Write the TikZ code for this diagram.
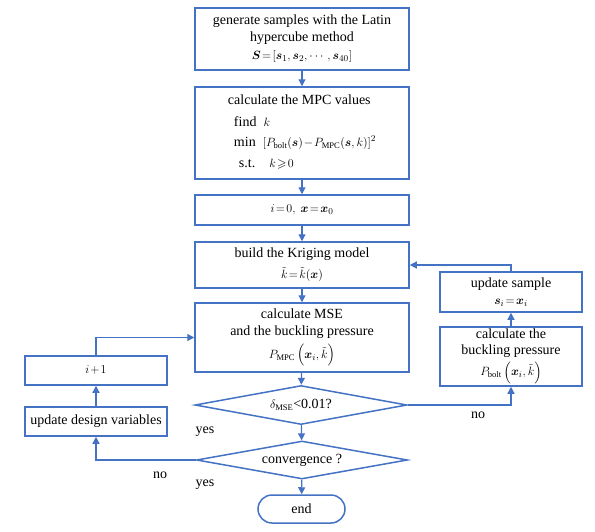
\documentclass[tikz,border=0pt]{standalone}
\usepackage{amsmath,amssymb,bm}
\usepackage{fontspec}
\setmainfont{Liberation Serif}
\usetikzlibrary{arrows.meta,shapes.geometric,shapes.misc}
\definecolor{fblue}{RGB}{68,114,196}
\newcommand{\smath}[1]{{\fontsize{12.2}{14}\selectfont\thickmuskip=2mu\medmuskip=1.5mu$#1$}}
\begin{document}
\begin{tikzpicture}[x=1pt,y=-1pt,
  font=\fontsize{14}{17}\selectfont,
  box/.style={draw=fblue,line width=1.5pt,inner sep=0pt,align=center,fill=white},
  dia/.style={draw=fblue,line width=1.5pt,diamond,aspect=5.4,inner sep=0pt,fill=white},
  term/.style={draw=fblue,line width=1.5pt,rounded rectangle,inner sep=0pt,fill=white},
  arr/.style={draw=fblue,line width=1.2pt,-{Triangle[length=7pt,width=7pt]}},
  lab/.style={inner sep=0pt}]
\useasboundingbox (0,0) rectangle (595,531);
% main column
\node[box,minimum width=214pt,minimum height=62pt] (b1) at (302,39)
  {generate samples with the Latin\\ hypercube method\\[1pt] \smath{\bm{S}=[\bm{s}_1,\bm{s}_2,\cdots,\bm{s}_{40}]}};
\node[box,minimum width=214pt,minimum height=92pt] (b2) at (302,133)
  {\begin{tabular}{@{}l@{}}
   calculate the MPC values\\[5pt]
   \hspace{6pt}find \ \smath{k}\\[3pt]
   \hspace{6pt}min \ \smath{\left[P_{\mathrm{bolt}}(\bm{s})-P_{\mathrm{MPC}}(\bm{s},k)\right]^2}\\[4pt]
   \hspace{11pt}s.t.\quad \smath{k\geqslant 0}
   \end{tabular}};
\node[box,minimum width=214pt,minimum height=30pt] (b3) at (302,210)
  {\smath{i=0,\ \bm{x}=\bm{x}_0}};
\node[box,minimum width=214pt,minimum height=46pt] (b4) at (302,265)
  {build the Kriging model\\[4pt] \smath{\tilde{k}=\tilde{k}(\bm{x})}};
\node[box,minimum width=214pt,minimum height=69pt] (b5) at (302,337.5)
  {calculate MSE\\ and the buckling pressure\\[5pt] \smath{P_{\mathrm{MPC}}\left(\bm{x}_i,\tilde{k}\right)}};
\node[dia,minimum width=212pt,minimum height=39pt] (d1) at (301,405)
  {\smath{\delta_{\mathrm{MSE}}}<0.01?};
\node[dia,minimum width=211pt,minimum height=38pt] (d2) at (302,460)
  {convergence ?};
\node[term,minimum width=87pt,minimum height=28pt] (end) at (301.5,509) {end};
% right column
\node[box,minimum width=142pt,minimum height=40pt] (samp) at (511,292)
  {update sample\\ \smath{\bm{s}_i=\bm{x}_i}};
\node[box,minimum width=142pt,minimum height=59pt] (buck) at (511,356.5)
  {calculate the\\[-1pt] buckling pressure\\[3pt] \smath{P_{\mathrm{bolt}}\left(\bm{x}_i,\tilde{k}\right)}};
% left column
\node[box,minimum width=142pt,minimum height=29pt] (ip1) at (96,370.5) {\smath{i+1}};
\node[box,minimum width=142pt,minimum height=29pt] (upd) at (96,421.5) {update design variables};
% connectors
\draw[arr] (b1) -- (b2);
\draw[arr] (b2) -- (b3);
\draw[arr] (b3) -- (b4);
\draw[arr] (b4) -- (b5);
\draw[arr] (b5) -- (d1);
\draw[arr] (d1) -- (d2);
\draw[arr] (d2) -- (end);
\draw[arr] (d1.east) -| (buck.south);
\draw[arr] (buck) -- (samp);
\draw[arr] (samp.north) |- (b4.east);
\draw[arr] (d2.west) -| (upd.south);
\draw[arr] (upd) -- (ip1);
\draw[arr] (ip1.north) |- (b5.west);
% labels
\node[lab] (y1) at (205,432) {yes};
\node[lab] (y2) at (205,485) {yes};
\node[lab] (n1) at (478,415) {no};
\node[lab] (n2) at (160,475) {no};
\end{tikzpicture}
\end{document}
